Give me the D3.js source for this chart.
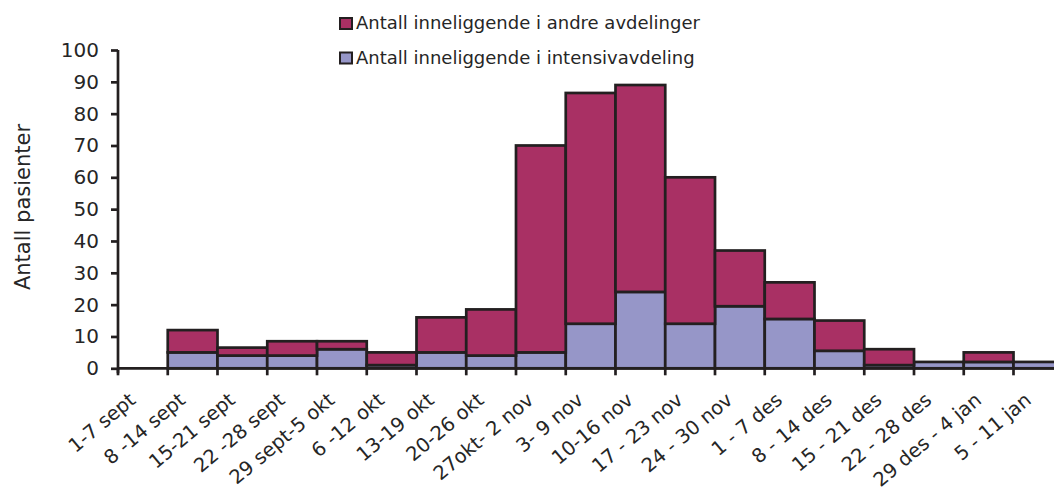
<!DOCTYPE html>
<html>
<head>
<meta charset="utf-8">
<script src="https://cdn.jsdelivr.net/npm/d3@7"></script>
<style>
  html, body { margin: 0; padding: 0; background: #fff; }
  svg { display: block; }
  text { font-family: "DejaVu Sans", sans-serif; fill: #262626; }
</style>
</head>
<body>
<svg id="chart" width="1054" height="494"></svg>
<script>
// Weekly number of hospitalised patients, split by ward type
const categories = [
  "1-7 sept", "8 -14 sept", "15-21 sept", "22 -28 sept", "29 sept-5 okt",
  "6 -12 okt", "13-19 okt", "20-26 okt", "27okt- 2 nov", "3- 9 nov",
  "10-16 nov", "17 - 23 nov", "24 - 30 nov", "1 - 7 des", "8 - 14 des",
  "15 - 21 des", "22 - 28 des", "29 des - 4 jan", "5 - 11 jan"
];
// Patients in intensive care (bottom segment)
const intensiv = [0, 5, 4, 4, 6, 1, 5, 4, 5, 14, 24, 14, 19.5, 15.5, 5.5, 1, 2, 2, 2];
// Patients in other wards (top segment)
const andre = [0, 7, 2.5, 4.5, 2.5, 4, 11, 14.5, 65, 72.5, 65, 46, 17.5, 11.5, 9.5, 5, 0, 3, 0];
const yTickValues = [0, 10, 20, 30, 40, 50, 60, 70, 80, 90, 100];
const seriesKeys = ["intensiv", "andre"];
const seriesNames = {
  andre: "Antall inneliggende i andre avdelinger",
  intensiv: "Antall inneliggende i intensivavdeling"
};
const seriesColors = { andre: "#A93064", intensiv: "#9696C8" };
const yTitle = "Antall pasienter";

const stroke = "#231F20";
const svg = d3.select("#chart");

const plotLeft = 118, plotBottom = 368.3, plotTop = 50, bandStep = 49.75;
const x = d3.scaleBand()
  .domain(categories)
  .range([plotLeft, plotLeft + bandStep * categories.length])
  .paddingInner(0).paddingOuter(0);
const y = d3.scaleLinear().domain([0, 100]).range([plotBottom, plotTop]);

const rows = categories.map((c, i) => ({ cat: c, intensiv: intensiv[i], andre: andre[i] }));
const stacked = d3.stack().keys(seriesKeys)(rows);

// Stacked bars, no gap between weeks
svg.append("g").selectAll("g")
  .data(stacked)
  .join("g")
  .attr("fill", d => seriesColors[d.key])
  .selectAll("rect")
  .data(d => d.filter(s => s[1] - s[0] > 0))
  .join("rect")
  .attr("x", d => x(d.data.cat))
  .attr("width", x.bandwidth())
  .attr("y", d => y(d[1]))
  .attr("height", d => y(d[0]) - y(d[1]))
  .attr("stroke", stroke)
  .attr("stroke-width", 2.7);

// Y axis
const yAxis = svg.append("g")
  .attr("transform", `translate(${plotLeft},0)`)
  .call(d3.axisLeft(y).tickValues(yTickValues).tickSize(7).tickPadding(12).tickSizeOuter(0));
yAxis.select(".domain").attr("stroke", stroke).attr("stroke-width", 2.7)
  .attr("d", `M0,${plotTop}V${plotBottom + 5}`);
yAxis.selectAll(".tick line").attr("stroke", stroke).attr("stroke-width", 2.7);
yAxis.selectAll(".tick text")
  .attr("font-size", 20)
  .attr("font-family", "DejaVu Sans, sans-serif")
  .attr("fill", "#262626");

// X axis baseline and boundary ticks
const xAxis = svg.append("g");
xAxis.append("line")
  .attr("x1", plotLeft).attr("x2", x.range()[1])
  .attr("y1", plotBottom).attr("y2", plotBottom)
  .attr("stroke", stroke).attr("stroke-width", 2.7);
xAxis.selectAll("line.tick")
  .data(categories.concat(["__end"]))
  .join("line")
  .attr("class", "tick")
  .attr("x1", d => d === "__end" ? x.range()[1] : x(d))
  .attr("x2", d => d === "__end" ? x.range()[1] : x(d))
  .attr("y1", plotBottom).attr("y2", plotBottom + 7)
  .attr("stroke", stroke).attr("stroke-width", 2.7);

// Rotated week labels
xAxis.selectAll("text")
  .data(categories)
  .join("text")
  .attr("text-anchor", "end")
  .attr("font-size", 19.5)
  .attr("transform", d => `translate(${x(d) + x.bandwidth() / 2 - 6},402) rotate(-40)`)
  .text(d => d);

// Y axis title
svg.append("text")
  .attr("text-anchor", "middle")
  .attr("font-size", 21)
  .attr("transform", "translate(30,207) rotate(-90)")
  .text(yTitle);

// Legend
const legendOrder = ["andre", "intensiv"];
const legend = svg.append("g").selectAll("g")
  .data(legendOrder)
  .join("g")
  .attr("transform", (d, i) => `translate(340,${18 + i * 34.5})`);
legend.append("rect")
  .attr("width", 12).attr("height", 11)
  .attr("fill", d => seriesColors[d])
  .attr("stroke", stroke).attr("stroke-width", 2);
legend.append("text")
  .attr("x", 16).attr("y", 11)
  .attr("font-size", 18)
  .text(d => seriesNames[d]);
</script>
</body>
</html>
